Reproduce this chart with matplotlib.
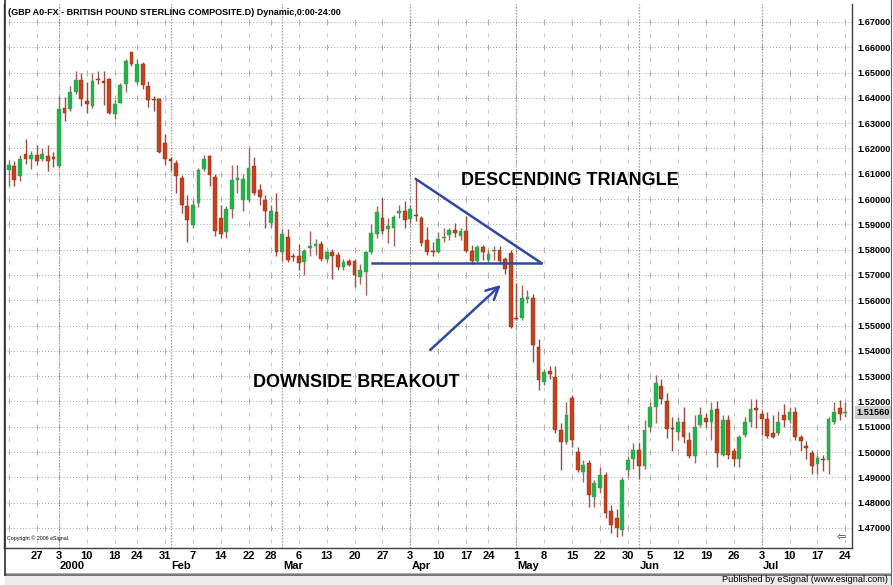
import numpy as np
import pandas as pd
import matplotlib
matplotlib.use("Agg")
import matplotlib.pyplot as plt
from matplotlib.transforms import blended_transform_factory

# GBP daily candles, Dec 20 1999 .. Jul 24 2000
holidays = ["1999-12-31", "2000-01-17", "2000-02-21", "2000-04-21", "2000-05-29"]

opens = [1.6113, 1.6130, 1.6090, 1.6180, 1.6160, 1.6176, 1.6160, 1.6172, 1.6165, 1.6130,
         1.6360, 1.6355, 1.6424, 1.6471, 1.6389, 1.6368, 1.6472, 1.6465, 1.6474, 1.6335,
         1.6381, 1.6454, 1.6580, 1.6461, 1.6534, 1.6448, 1.6395, 1.6395, 1.6223, 1.6158,
         1.6143, 1.6083, 1.5973, 1.5898, 1.5984, 1.6119, 1.6172, 1.6089, 1.5926, 1.5868,
         1.5959, 1.6077, 1.5998, 1.5998, 1.6131, 1.6034, 1.5998, 1.5907, 1.5948, 1.5789,
         1.5852, 1.5774, 1.5776, 1.5750, 1.5805, 1.5813, 1.5822, 1.5763, 1.5792, 1.5779,
         1.5731, 1.5757, 1.5757, 1.5692, 1.5711, 1.5789, 1.5861, 1.5926, 1.5883, 1.5887,
         1.5946, 1.5952, 1.5920, 1.5935, 1.5924, 1.5838, 1.5795, 1.5790, 1.5845, 1.5858,
         1.5877, 1.5855, 1.5874, 1.5795, 1.5755, 1.5810, 1.5758, 1.5795, 1.5800, 1.5762,
         1.5788, 1.5530, 1.5529, 1.5605, 1.5608, 1.5417, 1.5278, 1.5321, 1.5298, 1.5087,
         1.5041, 1.5213, 1.4999, 1.4923, 1.4956, 1.4824, 1.4857, 1.4910, 1.4765, 1.4740,
         1.4692, 1.4929, 1.4971, 1.5010, 1.4945, 1.5100, 1.5177, 1.5261, 1.5203, 1.5096,
         1.5081, 1.5119, 1.5046, 1.4984, 1.5106, 1.5136, 1.5119, 1.5171, 1.4990, 1.5126,
         1.5003, 1.4971, 1.5068, 1.5119, 1.5175, 1.5152, 1.5132, 1.5074, 1.5074, 1.5145,
         1.5126, 1.5158, 1.5058, 1.5025, 1.4997, 1.4952, 1.4974, 1.4968, 1.5119, 1.5175,
         1.5155]
highs = [1.6156, 1.6150, 1.6176, 1.6236, 1.6190, 1.6212, 1.6200, 1.6212, 1.6185, 1.6408,
         1.6405, 1.6448, 1.6507, 1.6500, 1.6461, 1.6500, 1.6507, 1.6507, 1.6477, 1.6392,
         1.6460, 1.6554, 1.6583, 1.6554, 1.6543, 1.6468, 1.6408, 1.6401, 1.6256, 1.6168,
         1.6156, 1.6096, 1.6017, 1.5997, 1.6123, 1.6176, 1.6176, 1.6100, 1.5978, 1.5972,
         1.6135, 1.6135, 1.6100, 1.6200, 1.6167, 1.6060, 1.6018, 1.5978, 1.6024, 1.5881,
         1.5881, 1.5787, 1.5822, 1.5802, 1.5874, 1.5841, 1.5835, 1.5796, 1.5802, 1.5789,
         1.5763, 1.5763, 1.5763, 1.5744, 1.5796, 1.5900, 1.5972, 1.6004, 1.5926, 1.5939,
         1.5978, 1.5991, 1.5978, 1.6079, 1.5935, 1.5891, 1.5830, 1.5870, 1.5885, 1.5885,
         1.5905, 1.5885, 1.5933, 1.5820, 1.5820, 1.5820, 1.5800, 1.5815, 1.5815, 1.5770,
         1.5800, 1.5667, 1.5660, 1.5640, 1.5625, 1.5445, 1.5330, 1.5340, 1.5340, 1.5113,
         1.5199, 1.5225, 1.5021, 1.4970, 1.4970, 1.4890, 1.4942, 1.4920, 1.4790, 1.4775,
         1.4900, 1.4985, 1.5035, 1.5035, 1.5126, 1.5199, 1.5306, 1.5287, 1.5235, 1.5139,
         1.5139, 1.5177, 1.5081, 1.5145, 1.5177, 1.5155, 1.5197, 1.5203, 1.5145, 1.5145,
         1.5016, 1.5068, 1.5139, 1.5210, 1.5210, 1.5165, 1.5158, 1.5145, 1.5164, 1.5190,
         1.5177, 1.5177, 1.5068, 1.5042, 1.5010, 1.4990, 1.4990, 1.5139, 1.5197, 1.5206,
         1.5197]
lows = [1.6050, 1.6050, 1.6070, 1.6140, 1.6117, 1.6136, 1.6150, 1.6110, 1.6125, 1.6123,
        1.6308, 1.6348, 1.6415, 1.6368, 1.6339, 1.6360, 1.6454, 1.6370, 1.6335, 1.6315,
        1.6378, 1.6424, 1.6525, 1.6455, 1.6434, 1.6362, 1.6348, 1.6183, 1.6136, 1.6110,
        1.6024, 1.5944, 1.5832, 1.5885, 1.5970, 1.6110, 1.6050, 1.5855, 1.5848, 1.5848,
        1.5926, 1.6024, 1.5952, 1.5990, 1.6018, 1.5978, 1.5887, 1.5887, 1.5776, 1.5757,
        1.5750, 1.5757, 1.5718, 1.5698, 1.5776, 1.5780, 1.5757, 1.5750, 1.5685, 1.5718,
        1.5718, 1.5737, 1.5652, 1.5665, 1.5620, 1.5783, 1.5848, 1.5861, 1.5828, 1.5815,
        1.5926, 1.5887, 1.5907, 1.5913, 1.5815, 1.5780, 1.5775, 1.5785, 1.5830, 1.5840,
        1.5850, 1.5840, 1.5790, 1.5745, 1.5750, 1.5760, 1.5750, 1.5760, 1.5745, 1.5705,
        1.5490, 1.5520, 1.5520, 1.5590, 1.5357, 1.5245, 1.5265, 1.5290, 1.5074, 1.4929,
        1.5030, 1.5021, 1.4920, 1.4883, 1.4784, 1.4784, 1.4840, 1.4740, 1.4680, 1.4664,
        1.4670, 1.4900, 1.4932, 1.4894, 1.4932, 1.5080, 1.5113, 1.5190, 1.5055, 1.5003,
        1.5048, 1.5035, 1.4977, 1.4958, 1.5100, 1.5100, 1.5048, 1.4939, 1.4984, 1.4971,
        1.4945, 1.4939, 1.5061, 1.5100, 1.5094, 1.5068, 1.5055, 1.5055, 1.5068, 1.5100,
        1.5113, 1.5048, 1.5003, 1.4971, 1.4913, 1.4913, 1.4926, 1.4913, 1.5110, 1.5126,
        1.5139]
closes = [1.6136, 1.6077, 1.6159, 1.6160, 1.6176, 1.6150, 1.6180, 1.6150, 1.6160, 1.6358,
          1.6340, 1.6425, 1.6471, 1.6395, 1.6377, 1.6467, 1.6470, 1.6460, 1.6339, 1.6377,
          1.6450, 1.6547, 1.6534, 1.6534, 1.6450, 1.6391, 1.6390, 1.6187, 1.6159, 1.6150,
          1.6090, 1.5977, 1.5918, 1.5975, 1.6114, 1.6159, 1.6097, 1.5874, 1.5861, 1.5959,
          1.6076, 1.6082, 1.6079, 1.6122, 1.6024, 1.6008, 1.5952, 1.5952, 1.5789, 1.5861,
          1.5761, 1.5770, 1.5748, 1.5796, 1.5813, 1.5822, 1.5763, 1.5789, 1.5776, 1.5731,
          1.5750, 1.5740, 1.5698, 1.5718, 1.5789, 1.5865, 1.5948, 1.5874, 1.5894, 1.5930,
          1.5952, 1.5917, 1.5961, 1.5932, 1.5828, 1.5792, 1.5789, 1.5843, 1.5852, 1.5877,
          1.5864, 1.5872, 1.5795, 1.5755, 1.5810, 1.5792, 1.5784, 1.5800, 1.5755, 1.5722,
          1.5495, 1.5527, 1.5608, 1.5613, 1.5423, 1.5285, 1.5318, 1.5308, 1.5087, 1.5041,
          1.5147, 1.5048, 1.4929, 1.4949, 1.4830, 1.4877, 1.4910, 1.4758, 1.4712, 1.4700,
          1.4890, 1.4969, 1.5010, 1.4945, 1.5087, 1.5177, 1.5274, 1.5210, 1.5090, 1.5092,
          1.5119, 1.5059, 1.4984, 1.5100, 1.5145, 1.5119, 1.5165, 1.4997, 1.5126, 1.4990,
          1.4971, 1.5061, 1.5119, 1.5171, 1.5167, 1.5132, 1.5064, 1.5061, 1.5119, 1.5126,
          1.5158, 1.5061, 1.5042, 1.5016, 1.4945, 1.4977, 1.4968, 1.5132, 1.5158, 1.5152,
          1.5156]

last_price = 1.5156
price_ticks = [1.47, 1.48, 1.49, 1.50, 1.51, 1.52, 1.53, 1.54, 1.55, 1.56, 1.57,
               1.58, 1.59, 1.60, 1.61, 1.62, 1.63, 1.64, 1.65, 1.66, 1.67]

# annotation: triangle apex day, support level, right end of triangle, arrow
apex_day = 73
support = 1.5747
support_start = 65.1
triangle_end = 95.5
arrow_from = (75.2, 1.5396)
arrow_to = (88.6, 1.5668)

title = "(GBP A0-FX - BRITISH POUND STERLING COMPOSITE.D) Dynamic,0:00-24:00"

dates = pd.bdate_range("1999-12-20", "2000-07-24")
dates = dates[~dates.isin(pd.to_datetime(holidays))]
n = len(dates)
x = np.arange(n)
o = np.array(opens); h = np.array(highs); l = np.array(lows); c = np.array(closes)

W, H = 893, 585
y0, y1 = 1.46207, 1.67711
fig = plt.figure(figsize=(W / 100, H / 100), dpi=100)
fig.patch.set_facecolor("white")
ax = fig.add_axes([4 / W, 37 / H, 848 / W, 544 / H])
ax.set_xlim(-0.86, 151.2)
ax.set_ylim(y0, y1)

bold = dict(family="Liberation Sans", weight="bold")

# grid
for p in price_ticks:
    ax.axhline(p, color="#a8a8a8", lw=0.7, ls=(0, (1, 2.2)), zorder=0)

week_id = dates.to_period("W")
week_first = np.r_[True, week_id[1:] != week_id[:-1]]
month_id = dates.to_period("M")
month_first = np.r_[False, month_id[1:] != month_id[:-1]]

wk = x[week_first]
half = np.arange(1.465, 1.675, 0.01)
wx, wy = np.meshgrid(wk, half)
ax.scatter(wx.ravel(), wy.ravel(), marker="|", s=6, lw=0.6, color="#c0c0c0", zorder=0)
wx2, wy2 = np.meshgrid(wk, price_ticks)
ax.scatter(wx2.ravel(), wy2.ravel(), marker="|", s=14, lw=0.7, color="#b0b0b0", zorder=0)

for mx in x[month_first]:
    ax.axvline(mx, color="#8c8c8c", lw=0.9, ls=(0, (1, 1.4)), zorder=0)

# candles
up = c >= o
wick_col = np.where(up, "#a8605a", "#9a4a40")
ax.vlines(x, l, h, colors=wick_col, lw=1.0, zorder=2)
body_lo = np.minimum(o, c)
body_h = np.maximum(np.abs(c - o), 0.00035)
ax.bar(x[up], body_h[up], bottom=body_lo[up], width=0.68, color="#22b24c",
       edgecolor="#3a9a50", lw=0.3, zorder=3)
ax.bar(x[~up], body_h[~up], bottom=body_lo[~up], width=0.68, color="#c8401c",
       edgecolor="#8a3018", lw=0.3, zorder=3)

# descending triangle and arrow
blue = "#2d4aa0"
ax.plot([apex_day, triangle_end], [highs[apex_day], support], color=blue, lw=1.8, zorder=4)
ax.plot([support_start, triangle_end], [support, support], color=blue, lw=1.8, zorder=4)
ax.annotate("", xy=arrow_to, xytext=arrow_from,
            arrowprops=dict(arrowstyle="->,head_length=0.9,head_width=0.45", color=blue, lw=1.8),
            zorder=4)
ax.text(81.0, 1.6072, "DESCENDING TRIANGLE", fontsize=13, va="center", ha="left", **bold)
ax.text(43.8, 1.5273, "DOWNSIDE BREAKOUT", fontsize=13, va="center", ha="left", **bold)

# axes styling
ax.spines["top"].set_visible(False)
for s in ["left", "right", "bottom"]:
    ax.spines[s].set_color("#404040")
    ax.spines[s].set_linewidth(1.0)
ax.yaxis.tick_right()
ax.set_yticks(price_ticks)
ax.set_yticklabels([f"{p:.5f}" for p in price_ticks])
ax.tick_params(axis="y", length=0, pad=4, labelsize=6.6)
for t in ax.get_yticklabels():
    t.set_fontfamily("Liberation Sans")
    t.set_fontweight("bold")

lab_idx = x[week_first & (x >= 2)]
ax.set_xticks(lab_idx)
ax.set_xticklabels([str(dates[i].day) for i in lab_idx])
ax.tick_params(axis="x", length=0, pad=2, labelsize=8)
for t in ax.get_xticklabels():
    t.set_fontfamily("Liberation Sans")
    t.set_fontweight("bold")

tr = blended_transform_factory(ax.transData, ax.transAxes)
for i in x[month_first]:
    name = "2000" if dates[i].month == 1 else dates[i].strftime("%b")
    ax.text(i + 0.2, -0.034, name, transform=tr, ha="left", va="center",
            fontsize=8, **bold)

# last price box
ax.text(1.0055, (last_price - y0) / (y1 - y0), f"{last_price:.5f}",
        transform=ax.transAxes, ha="left", va="center", fontsize=6.6,
        bbox=dict(boxstyle="square,pad=0.2", fc="#cfcfcf", ec="none"), **bold)

ax.text(0.004, 0.012, "Copyright \u00a9 2006 eSignal.", transform=ax.transAxes,
        fontsize=3.8, family="Liberation Sans", va="bottom", ha="left")
ax.text(0.993, 0.012, "\u21e6", transform=ax.transAxes, fontsize=8,
        family="DejaVu Sans", va="bottom", ha="right", color="#303030")

# title
ax.text(0.005, 0.993, title, transform=ax.transAxes, fontsize=6.5, va="top",
        ha="left", **bold)

# frame and status bar
fig.add_artist(plt.Rectangle((5 / W, 0), 886 / W, 10 / H, transform=fig.transFigure,
                             fc="#ededed", ec="none"))
fig.add_artist(plt.Line2D([5 / W, 891 / W], [10.5 / H, 10.5 / H], color="#606060", lw=1.2))
fig.add_artist(plt.Line2D([5 / W, 891 / W], [12.5 / H, 12.5 / H], color="#a0a0a0", lw=0.6))
fig.add_artist(plt.Line2D([4.5 / W, 4.5 / W], [10 / H, 1], color="#303030", lw=1.2))
fig.add_artist(plt.Line2D([891 / W, 891 / W], [0, 1], color="#606060", lw=0.8))
fig.text(888 / W, 5 / H, "Published by eSignal (www.esignal.com)", fontsize=6.6,
         family="Liberation Sans", ha="right", va="center")

fig.savefig("out.png", dpi=100)
